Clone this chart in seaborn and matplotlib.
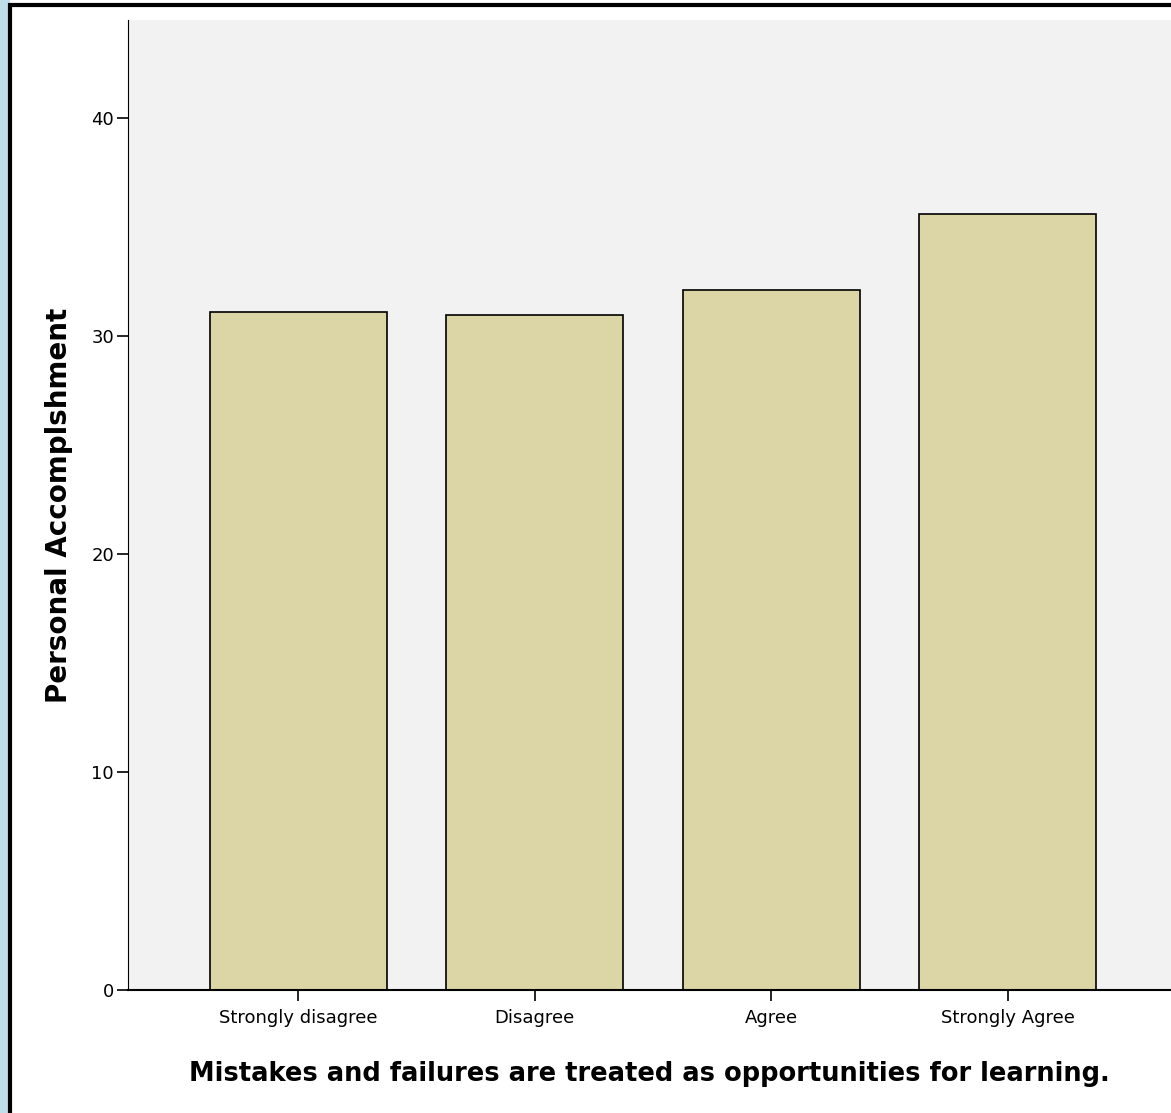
import matplotlib
matplotlib.use("Agg")
import matplotlib.pyplot as plt
import seaborn as sns
import pandas as pd
from matplotlib.patches import Rectangle

categories = ["Strongly disagree", "Disagree", "Agree", "Strongly Agree"]
values = [31.1, 30.95, 32.1, 35.6]
yticks = [0, 10, 20, 30, 40]

df = pd.DataFrame({"cat": categories, "val": values})

sns.set_style("white")
plt.rcParams["text.color"] = "black"
plt.rcParams["axes.labelcolor"] = "black"
plt.rcParams["xtick.color"] = "black"
plt.rcParams["ytick.color"] = "black"
fig = plt.figure(figsize=(11.71, 11.13), dpi=100)
fig.patch.set_facecolor("white")

# background: left blue strip and black frame
bg = fig.add_axes([0, 0, 1, 1], zorder=-10)
bg.set_axis_off()
bg.set_xlim(0, 1)
bg.set_ylim(0, 1)
bg.add_patch(Rectangle((0, 0), 10 / 1171, 1, facecolor="#bfe0ea", edgecolor="none"))
bg.add_patch(Rectangle((10 / 1171, -0.01), 1.0, 1 - 5 / 1113 + 0.01,
                       facecolor="white", edgecolor="black", linewidth=3))

ax = fig.add_axes([128 / 1171, 1 - 990 / 1113, 1 - 128 / 1171, (990 - 20) / 1113])
ax.set_facecolor("#f2f2f2")
sns.barplot(data=df, x="cat", y="val", ax=ax, color="#dcd5a6", width=0.75,
            edgecolor="black", linewidth=1.2, saturation=1)
ax.set_xlim(-0.72, 3.69)
ax.set_ylim(0, 44.5)
ax.set_yticks(yticks)
for s in ["top", "right"]:
    ax.spines[s].set_visible(False)
ax.spines["left"].set_color("black")
ax.spines["bottom"].set_color("black")
ax.spines["bottom"].set_linewidth(1.5)
ax.tick_params(axis="both", length=8, width=1.2, color="black", labelsize=13, direction="out",
               left=True, bottom=True, labelcolor="black")
ax.tick_params(axis="y", pad=2)
ax.tick_params(axis="x", pad=6)
ax.set_xlabel("Mistakes and failures are treated as opportunities for learning.",
              fontsize=18.5, fontweight="bold", labelpad=24, color="black")
ax.set_ylabel("Personal Accomplshment", fontsize=20, fontweight="bold", color="black")
ax.yaxis.set_label_coords(-55 / 1043, (990 - 505) / 970)

fig.savefig("out.png", dpi=100)
